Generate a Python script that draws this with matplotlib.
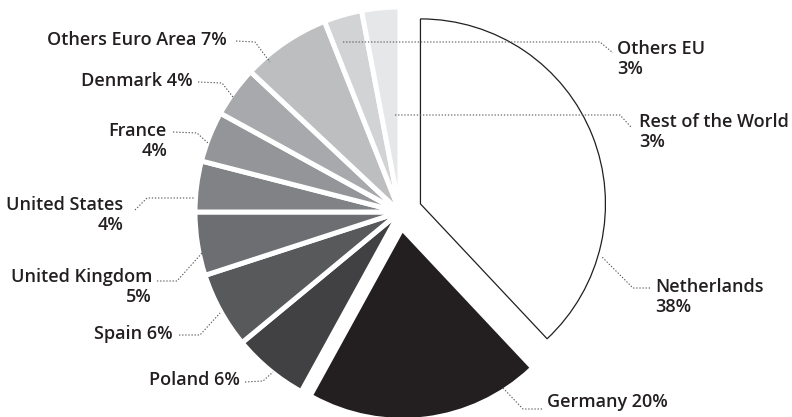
import matplotlib
matplotlib.use("Agg")
import matplotlib.pyplot as plt

# Export shares by destination
countries = ["Netherlands", "Germany", "Poland", "Spain", "United Kingdom",
             "United States", "France", "Denmark", "Others Euro Area",
             "Others EU", "Rest of the World"]
shares = [38, 20, 6, 6, 5, 4, 4, 4, 7, 3, 3]
colors = ["#ffffff", "#231f20", "#414042", "#58595b", "#6d6e71", "#808285",
          "#939598", "#a7a9ac", "#bcbec0", "#d1d3d4", "#e6e7e8"]
two_line = [True, False, False, False, True, True, True, False, False, True, True]

W, H = 792, 417
fig = plt.figure(figsize=(W / 100, H / 100), dpi=100)
ax = fig.add_axes([0, 0, 1, 1])

R = 205
center = (400, H - 212)
explode = [22, 21] + [0] * 9
wedges, _ = ax.pie(shares, colors=colors, startangle=90, counterclock=False,
                   radius=R, center=center, explode=explode, frame=True,
                   wedgeprops=dict(edgecolor="white", linewidth=3.6))
ax.set_xlim(0, W)
ax.set_ylim(0, H)
ax.set_aspect("equal")
ax.axis("off")

# Highlighted wedges are pulled out and drawn a bit smaller
wedges[0].set_radius(185)
wedges[0].set_edgecolor("#231f20")
wedges[0].set_linewidth(0.9)
wedges[1].set_radius(185)
wedges[1].set_linewidth(0)

# Label anchor (x, y from top), alignment, and leader path (from top)
layout = {
    "Netherlands": ((655, 297), "left", [(650, 288), (633, 288), (602, 257)]),
    "Germany": ((547, 402), "left", [(542, 409), (523, 409), (503, 388)]),
    "Poland": ((240, 380), "right", [(245, 382), (263, 381), (273, 372)]),
    "Spain": ((173, 334), "right", [(179, 335), (200, 335), (220, 313)]),
    "United Kingdom": ((152, 287), "right", [(157, 281), (177, 281), (202, 253)]),
    "United States": ((123, 215), "right", [(135, 210), (147, 198), (195, 198)]),
    "France": ((167, 141), "right", [(173, 132), (197, 133), (208, 143)]),
    "Denmark": ((193, 81), "right", [(198, 82), (222, 83), (233, 97)]),
    "Others Euro Area": ((227, 40), "right", [(236, 41), (255, 42), (270, 62)]),
    "Others EU": ((617, 59), "left", [(343, 42), (600, 42), (613, 53)]),
    "Rest of the World": ((639, 132), "left", [(395, 115), (620, 115), (631, 127)]),
}

text_color = "#231f20"
for name, share, split in zip(countries, shares, two_line):
    (x, y), ha, path = layout[name]
    label = f"{name}\n{share}%" if split else f"{name} {share}%"
    ax.text(x, H - y, label, ha=ha, va="center", multialignment=ha,
            fontsize=13, fontweight="semibold", family="Open Sans",
            color=text_color, linespacing=1.2)
    xs = [p[0] for p in path]
    ys = [H - p[1] for p in path]
    ax.plot(xs, ys, color="#58595b", linewidth=0.8, linestyle=(0, (1.2, 1.6)),
            solid_capstyle="butt")

fig.savefig("out.png", dpi=100)
